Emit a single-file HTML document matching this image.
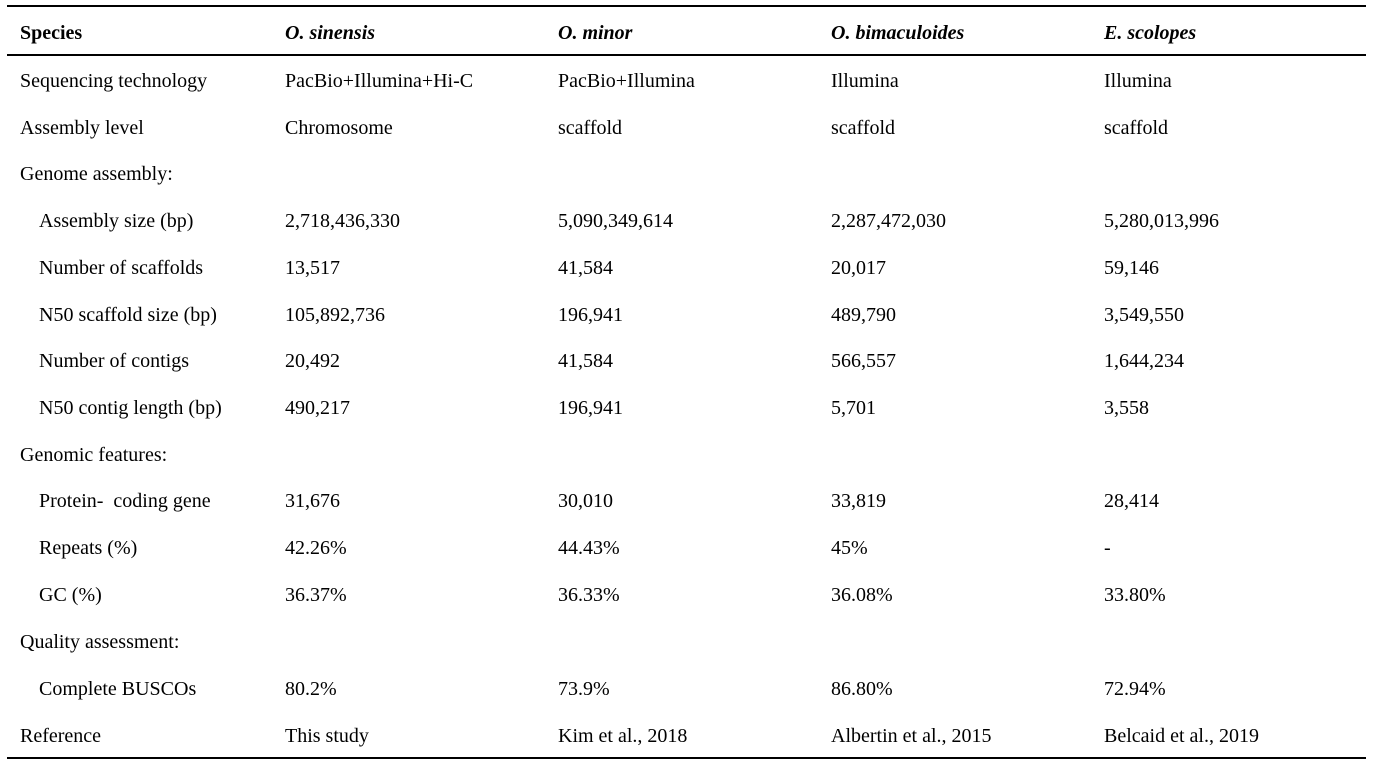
<!DOCTYPE html>
<html><head><meta charset="utf-8"><style>
body{margin:0;width:1380px;height:767px;background:#fff;position:relative;overflow:hidden;font-family:"Liberation Serif",serif;font-size:20px;color:#000}
.l{position:absolute;left:7px;width:1359px;background:#000}
.t{position:absolute;line-height:24px;white-space:nowrap}
b{font-weight:bold}
</style></head><body>
<div class="l" style="top:5px;height:2px"></div>
<div class="l" style="top:54px;height:2px"></div>
<div class="l" style="top:757px;height:2px"></div>
<div id="c"></div>
<script>
const rows=[
["<b>Species</b>","<b><i>O. sinensis</i></b>","<b><i>O. minor</i></b>","<b><i>O. bimaculoides</i></b>","<b><i>E. scolopes</i></b>",0],
["Sequencing technology","PacBio+Illumina+Hi-C","PacBio+Illumina","Illumina","Illumina",0],
["Assembly level","Chromosome","scaffold","scaffold","scaffold",0],
["Genome assembly:","","","","",0],
["Assembly size (bp)","2,718,436,330","5,090,349,614","2,287,472,030","5,280,013,996",1],
["Number of scaffolds","13,517","41,584","20,017","59,146",1],
["N50 scaffold size (bp)","105,892,736","196,941","489,790","3,549,550",1],
["Number of contigs","20,492","41,584","566,557","1,644,234",1],
["N50 contig length (bp)","490,217","196,941","5,701","3,558",1],
["Genomic features:","","","","",0],
["Protein-&nbsp; coding gene","31,676","30,010","33,819","28,414",1],
["Repeats (%)","42.26%","44.43%","45%","-",1],
["GC (%)","36.37%","36.33%","36.08%","33.80%",1],
["Quality assessment:","","","","",0],
["Complete BUSCOs","80.2%","73.9%","86.80%","72.94%",1],
["Reference","This study","Kim et al., 2018","Albertin et al., 2015","Belcaid et al., 2019",0]];
const ys=[32,80,127,173,220,267,314,360,407,454,500,547,594,641,688,735];
const xs=[20,285,558,831,1104];
let h="";
rows.forEach((r,i)=>{for(let j=0;j<5;j++){if(!r[j])continue;let x=xs[j]+(j==0&&r[5]?19:0);
h+=`<div class="t" style="left:${x}px;top:${ys[i]-11}px">${r[j]}</div>`;}});
document.getElementById("c").innerHTML=h;
</script>
</body></html>
